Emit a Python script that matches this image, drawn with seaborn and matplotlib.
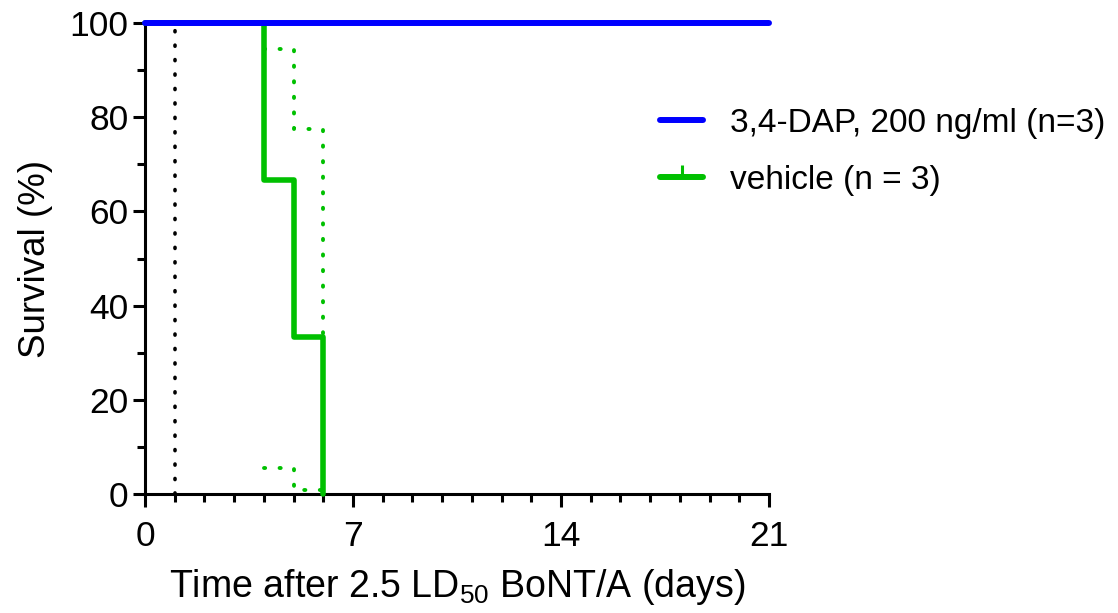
import matplotlib
matplotlib.use("Agg")
import matplotlib.pyplot as plt
from matplotlib.lines import Line2D
import seaborn as sns
import pandas as pd

# Data
dap_time = [0, 21]
dap_surv = [100, 100]
veh_time = [0, 4, 5, 6]
veh_surv = [100, 66.67, 33.33, 0]
veh_ci_time = [4, 5, 6]
veh_ci_upper = [94.5, 77.4, 34.0]
veh_ci_lower = [5.5, 0.9, 0.9]
marker_day = 1
labels = ["3,4-DAP, 200 ng/ml (n=3)", "vehicle (n = 3)"]
xticks = [0, 7, 14, 21]
yticks = [0, 20, 40, 60, 80, 100]

sns.set_theme(style="ticks")
plt.rcParams['font.family'] = ['Liberation Sans', 'DejaVu Sans']
plt.rcParams['mathtext.fontset'] = 'custom'
plt.rcParams['mathtext.rm'] = 'Liberation Sans'
plt.rcParams['mathtext.it'] = 'Liberation Sans'
plt.rcParams['text.color'] = 'black'
plt.rcParams['axes.labelcolor'] = 'black'

BLUE = "#0000ff"
GREEN = "#00c000"

fig = plt.figure(figsize=(11.18, 6.13), dpi=100)
ax = fig.add_axes([145/1118, 1-494/613, (769-145)/1118, (494-23)/613])

dotted = (0, (0.3, 3.7))

sns.lineplot(x=veh_ci_time, y=veh_ci_upper, ax=ax, color=GREEN, lw=2.8,
             drawstyle='steps-post', linestyle=dotted, dash_capstyle='round',
             clip_on=False, zorder=2)
sns.lineplot(x=veh_ci_time, y=veh_ci_lower, ax=ax, color=GREEN, lw=2.8,
             drawstyle='steps-post', linestyle=dotted, dash_capstyle='round',
             clip_on=False, zorder=2)
sns.lineplot(x=veh_time, y=veh_surv, ax=ax, color=GREEN, lw=4.0,
             drawstyle='steps-post', clip_on=False, zorder=3)
sns.lineplot(x=dap_time, y=dap_surv, ax=ax, color=BLUE, lw=4.3,
             drawstyle='steps-post', clip_on=False, zorder=4)
ax.axvline(marker_day, color='black', lw=2.6, linestyle=dotted,
           dash_capstyle='round', zorder=1)

ax.set_xlim(0, 21)
ax.set_ylim(0, 100)
ax.set_xticks(xticks)
ax.set_xticks(range(0, 22), minor=True)
ax.set_yticks(yticks)
ax.set_yticks(range(0, 101, 10), minor=True)
ax.tick_params(axis='both', which='major', length=9, width=2.2,
               labelsize=25.5, color='black', labelcolor='black')
ax.tick_params(axis='x', which='major', pad=10)
ax.tick_params(axis='y', which='major', pad=3)
ax.tick_params(axis='both', which='minor', length=5.5, width=2.2, color='black')
for s in ['top', 'right']:
    ax.spines[s].set_visible(False)
for s in ['left', 'bottom']:
    ax.spines[s].set_linewidth(2.2)
    ax.spines[s].set_color('black')

ax.set_xlabel("Time after 2.5 LD$_{50}$ BoNT/A (days)", fontsize=27, labelpad=10)
ax.set_ylabel("Survival (%)", fontsize=26.5, labelpad=12)

handles = [Line2D([], [], color=BLUE, lw=4.3),
           Line2D([], [], color=GREEN, lw=4.3, marker=2, markersize=9,
                  markeredgewidth=2.2, markevery=[1])]
handles[1].set_data([0, 0.5, 1], [0, 0, 0])
leg = fig.legend(handles, labels, loc='center left',
                 bbox_to_anchor=(630/1118, 1-152/613), frameon=False,
                 fontsize=24, handlelength=1.3, handletextpad=0.8,
                 labelspacing=0.78)

fig.savefig("out.png", dpi=100)
